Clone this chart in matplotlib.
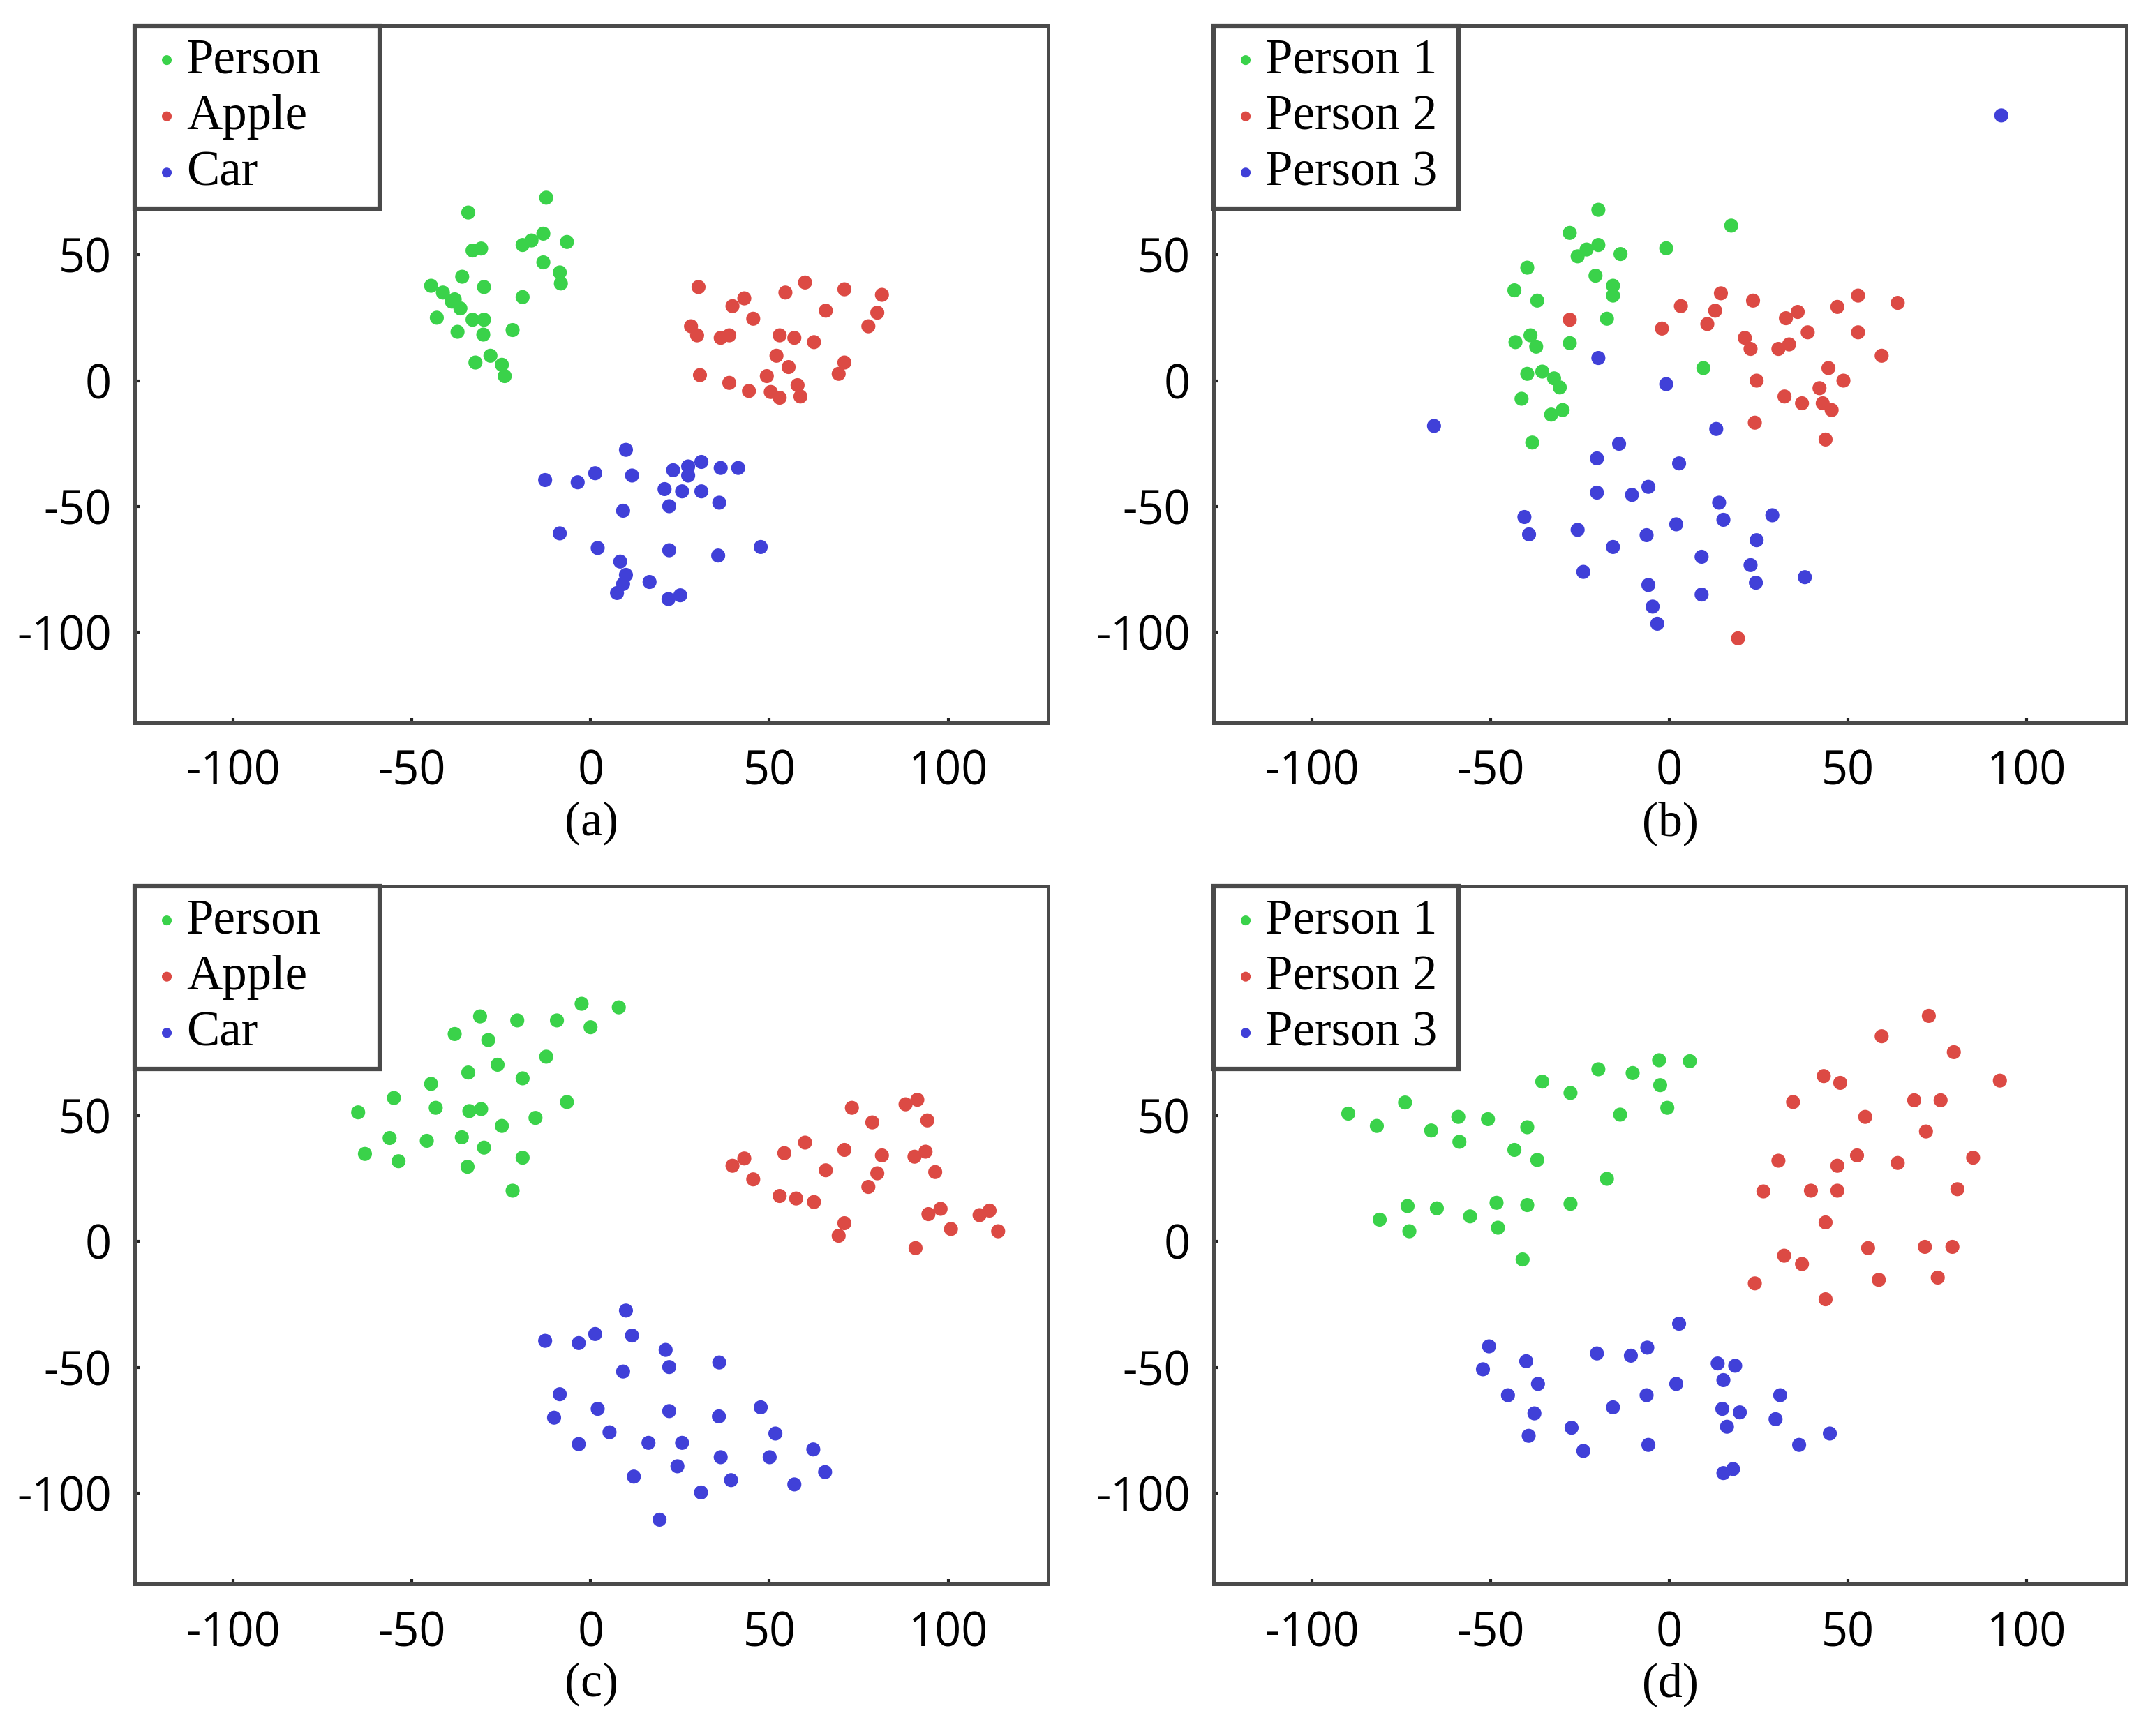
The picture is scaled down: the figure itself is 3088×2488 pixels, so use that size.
import matplotlib
matplotlib.use("Agg")
import matplotlib.pyplot as plt

plt.rcParams['axes.unicode_minus'] = False

# ---- panel (a): Person / Apple / Car ----
a_person_x = [-12.4, -34.2, -6.6, -13.2, -16.5, -19.0, -33.0, -30.6, -13.2, -8.6, -8.3, -35.9, -29.8, -44.6, -41.3,
              -38.0, -19.0, -43.0, -36.4, -33.0, -29.8, -37.2, -30.0, -21.8, -32.2, -28.0, -24.8, -24.0, -38.8]
a_person_y = [72.7, 66.8, 55.1, 58.4, 55.7, 53.9, 51.7, 52.5, 47.0, 43.0, 38.6, 41.3, 37.2, 37.7, 35.0,
              32.3, 33.2, 25.0, 28.7, 24.2, 24.2, 19.4, 18.3, 20.1, 7.2, 9.9, 6.3, 1.8, 31.4]
a_apple_x = [30.2, 60.0, 54.5, 71.0, 81.5, 43.0, 39.7, 65.8, 80.2, 45.5, 28.1, 77.7, 29.8, 38.8, 36.4,
             52.9, 57.0, 62.5, 52.0, 71.0, 55.4, 69.4, 30.6, 38.8, 44.3, 49.3, 50.4, 52.9, 57.9, 58.7]
a_apple_y = [37.2, 39.0, 35.0, 36.3, 34.1, 32.7, 29.6, 27.8, 27.0, 24.6, 21.6, 21.6, 18.0, 18.0, 17.0,
             18.0, 17.0, 15.3, 9.9, 7.2, 5.4, 2.7, 2.2, -0.9, -4.1, 1.8, -4.5, -6.8, -1.8, -6.3]
a_car_x = [9.9, -12.7, -3.6, 1.3, 11.6, 23.1, 27.3, 31.0, 36.4, 41.3, 27.3, 20.7, 25.6, 31.0, 9.1,
           22.0, 36.0, -8.6, 2.0, 22.0, 35.7, 47.6, 8.3, 9.9, 16.5, 7.4, 21.8, 25.1, 9.1]
a_car_y = [-27.5, -39.5, -40.4, -36.8, -37.7, -35.6, -34.1, -32.3, -34.7, -34.7, -37.7, -43.1, -44.0, -44.0, -51.7,
           -49.9, -48.5, -60.7, -66.5, -67.4, -69.5, -66.1, -71.9, -77.2, -80.0, -84.4, -86.8, -85.3, -80.8]

# ---- panel (b): Person 1 / 2 / 3 ----
b_p1_x = [-19.8, 17.4, -27.8, -0.8, -19.8, -23.1, -25.6, -13.6, -39.7, -20.6, -15.7, -15.7, -43.3, -36.9,
          -17.4, -27.8, -43.0, -38.8, -37.2, -39.7, -35.5, -32.2, -30.6, -41.3, -33.0, -29.8, -38.3, 9.6]
b_p1_y = [67.9, 61.6, 58.7, 52.6, 53.9, 52.1, 49.4, 50.3, 44.9, 41.7, 37.7, 33.8, 35.9, 31.8,
          24.6, 14.9, 15.3, 18.0, 13.5, 2.7, 3.6, 0.9, -2.7, -7.2, -13.5, -11.7, -24.6, 5.0]
b_p2_x = [14.5, 23.5, 3.3, 12.9, 10.7, -2.0, -27.8, 47.1, 52.9, 64.0, 36.0, 32.7, 38.8, 52.9, 21.2,
          22.8, 30.6, 33.6, 59.5, 44.6, 48.8, 24.5, 32.3, 37.2, 42.1, 43.0, 45.5, 24.0, 43.8, 19.3]
b_p2_y = [34.7, 31.8, 29.6, 27.8, 22.5, 20.7, 24.2, 29.3, 33.8, 30.9, 27.3, 24.8, 19.2, 19.2, 17.0,
          12.6, 12.6, 14.4, 9.9, 5.0, 0.0, 0.0, -6.3, -9.0, -3.0, -9.0, -11.7, -16.7, -23.4, -102.4]
b_p3_x = [93.0, -65.8, -19.8, -0.8, 13.2, -14.0, -20.2, 2.8, -20.2, -10.4, -5.8, 14.0, 15.2, 28.9, -40.5,
          -39.2, -25.6, -6.3, 2.0, -15.7, 9.1, 24.5, 22.8, 24.3, 38.0, -24.0, -5.8, 9.1, -4.6, -3.3]
b_p3_y = [105.4, -18.0, 9.0, -1.4, -19.2, -25.1, -30.9, -32.9, -44.5, -45.4, -42.2, -48.5, -55.3, -53.5, -54.2,
          -61.1, -59.3, -61.4, -57.1, -66.1, -70.0, -63.4, -73.3, -80.3, -78.1, -76.0, -81.2, -85.0, -89.8, -96.6]

# ---- panel (c): Person / Apple / Car ----
c_person_x = [-2.5, 7.9, -30.9, -20.5, -9.4, 0.0, -38.0, -28.6, -12.4, -26.0, -34.2, -19.0, -44.6, -55.0, -65.0,
              -43.3, -33.9, -30.6, -6.6, -15.4, -24.8, -56.2, -45.8, -36.0, -29.8, -63.1, -53.7, -34.4, -19.0, -21.8]
c_person_y = [94.3, 92.9, 89.3, 87.7, 87.7, 85.0, 82.3, 79.9, 73.3, 70.1, 67.0, 64.7, 62.5, 56.9, 51.2,
              53.0, 51.7, 52.5, 55.3, 49.0, 45.8, 41.0, 39.9, 41.3, 37.2, 34.7, 31.8, 29.6, 33.2, 20.1]
c_apple_x = [73.1, 88.1, 91.4, 78.8, 94.2, 60.0, 54.2, 71.0, 81.5, 90.6, 93.7, 43.0, 39.7, 65.8, 80.2,
             96.4, 45.5, 77.7, 52.9, 57.5, 62.5, 94.5, 97.9, 108.8, 111.6, 100.8, 114.0, 71.0, 69.4, 90.9]
c_apple_y = [53.0, 54.4, 56.2, 47.2, 48.0, 39.2, 35.0, 36.3, 34.1, 33.6, 35.6, 32.9, 30.0, 28.2, 27.0,
             27.5, 24.6, 21.6, 18.0, 17.0, 15.6, 10.8, 12.9, 10.4, 12.2, 4.9, 4.0, 7.2, 2.2, -2.7]
c_car_x = [9.9, -12.7, -3.3, 1.3, 11.6, 21.0, 22.0, 36.0, 9.1, -8.6, -10.2, 2.0, 22.0, 35.9, 47.6,
           51.7, -3.3, 5.3, 16.2, 25.6, 36.4, 50.1, 62.3, 65.6, 24.3, 12.1, 39.3, 57.0, 30.9, 19.3]
c_car_y = [-27.5, -39.5, -40.4, -36.8, -37.4, -43.1, -49.9, -48.1, -51.7, -60.7, -70.0, -66.5, -67.4, -69.5, -65.9,
           -76.3, -80.5, -75.8, -80.0, -80.0, -85.7, -85.7, -82.6, -91.6, -89.3, -93.4, -94.8, -96.5, -99.7, -110.5]

# ---- panel (d): Person 1 / 2 / 3 ----
d_p1_x = [-89.8, -81.8, -73.9, -66.6, -59.0, -58.7, -50.7, -39.7, -43.3, -36.9, -35.5, -27.6, -19.8, -10.2, -2.8,
          5.8, -2.5, -13.7, -0.5, -17.4, -81.0, -73.2, -65.0, -55.7, -48.3, -39.7, -27.6, -72.7, -47.9, -41.0]
d_p1_y = [50.7, 45.8, 55.1, 44.0, 49.4, 39.5, 48.5, 45.3, 36.3, 32.3, 63.4, 58.9, 68.3, 66.8, 71.9,
          71.5, 62.0, 50.3, 53.0, 24.8, 8.6, 14.0, 13.1, 9.9, 15.3, 14.4, 14.9, 4.0, 5.4, -7.2]
d_p2_x = [72.7, 59.5, 79.7, 92.6, 43.3, 47.9, 34.7, 68.6, 76.0, 54.9, 71.9, 30.6, 47.1, 52.6, 64.0,
          85.1, 26.4, 39.7, 47.1, 80.7, 43.8, 32.2, 37.2, 55.7, 71.6, 79.3, 24.0, 58.7, 75.2, 43.8]
d_p2_y = [89.5, 81.4, 75.1, 63.8, 65.6, 62.9, 55.3, 56.0, 56.0, 49.4, 43.6, 32.0, 30.0, 34.1, 31.1,
          33.2, 19.8, 20.1, 20.1, 20.7, 7.5, -5.7, -9.0, -2.7, -2.2, -2.2, -16.7, -15.3, -14.4, -23.0]
d_p3_x = [2.8, -50.4, -40.0, -52.1, -36.7, -45.1, -37.7, -39.3, -27.3, -24.0, -20.2, -10.7, -6.1, 2.0, -6.3,
          -15.7, -5.8, 13.6, 18.5, 15.2, 31.1, 14.9, 19.8, 16.2, 29.8, 36.4, 45.0, 15.2, 17.9]
d_p3_y = [-32.7, -41.7, -47.6, -50.8, -56.6, -61.1, -68.3, -77.2, -74.0, -83.2, -44.5, -45.4, -42.2, -56.6, -61.1,
          -65.9, -80.8, -48.5, -49.4, -55.1, -61.1, -66.5, -67.9, -73.6, -70.6, -80.8, -76.3, -92.0, -90.4]

labels_obj = ['Person', 'Apple', 'Car']
labels_id = ['Person 1', 'Person 2', 'Person 3']
colors = ['#3ad24a', '#dc4a44', '#4040d8']
ticks = [-100, -50, 0, 50, 100]
panel_tags = ['(a)', '(b)', '(c)', '(d)']

panels = [
    ([(a_person_x, a_person_y), (a_apple_x, a_apple_y), (a_car_x, a_car_y)], labels_obj),
    ([(b_p1_x, b_p1_y), (b_p2_x, b_p2_y), (b_p3_x, b_p3_y)], labels_id),
    ([(c_person_x, c_person_y), (c_apple_x, c_apple_y), (c_car_x, c_car_y)], labels_obj),
    ([(d_p1_x, d_p1_y), (d_p2_x, d_p2_y), (d_p3_x, d_p3_y)], labels_id),
]

W, H = 3088, 2488
# axes boxes in pixels: left, top, right, bottom
boxes = [(193, 37, 1502, 1036), (1739, 37, 3047, 1036),
         (193, 1270, 1502, 2270), (1739, 1270, 3047, 2270)]

fig = plt.figure(figsize=(W / 100, H / 100), dpi=100)
frame_col = '#4a4a4a'

for (series, labels), box, tag in zip(panels, boxes, panel_tags):
    l, t, r, b = box
    ax = fig.add_axes([l / W, 1 - b / H, (r - l) / W, (b - t) / H])
    for (xs, ys), lab, col in zip(series, labels, colors):
        ax.scatter(xs, ys, s=210, c=col, edgecolors='none', label=lab, zorder=3)
    ax.set_xlim(-127.5, 128)
    ax.set_ylim(-136, 141)
    ax.set_xticks(ticks)
    ax.set_yticks(ticks[:-1])
    ax.tick_params(direction='in', length=5, width=3, color='#222222',
                   labelsize=48, pad=27)
    ax.tick_params(axis='y', pad=24)
    for lab in ax.get_xticklabels() + ax.get_yticklabels():
        lab.set_family('Open Sans')
    for sp in ax.spines.values():
        sp.set_linewidth(3.6)
        sp.set_color(frame_col)
    # legend box stretched to the width used in the original
    leg = ax.legend(loc='upper left', bbox_to_anchor=(0, 1, 0.268, 0), mode='expand',
                    borderaxespad=0, fancybox=False, framealpha=1, edgecolor=frame_col,
                    prop={'family': 'Liberation Serif', 'size': 51},
                    handletextpad=0.0, handlelength=0.8, markerscale=0.7,
                    labelspacing=0.22, borderpad=0.25)
    leg.get_frame().set_linewidth(4.5)
    ax.text(0.5, -0.144, tag, transform=ax.transAxes, ha='center', va='center',
            fontsize=50, family='Liberation Serif')

fig.savefig('out.png', dpi=100)
